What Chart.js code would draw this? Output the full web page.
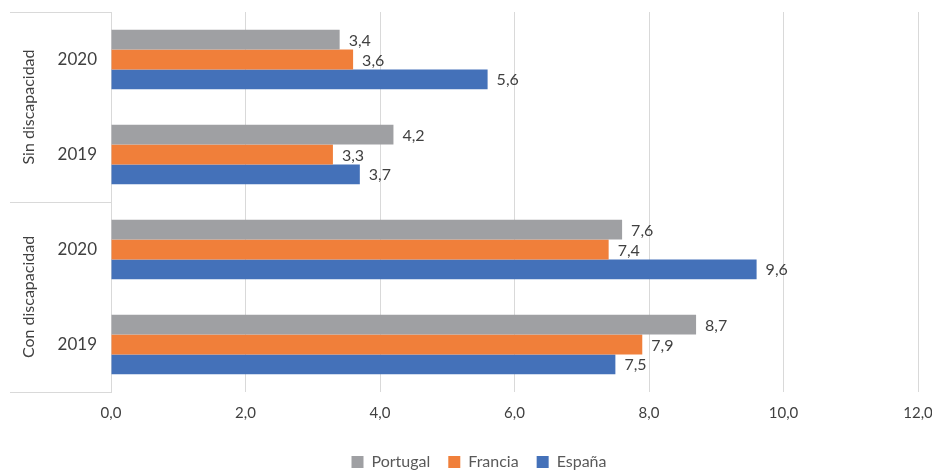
<!DOCTYPE html>
<html>
<head>
<meta charset="utf-8">
<script src="https://cdn.jsdelivr.net/npm/chart.js@4.4.1/dist/chart.umd.min.js"></script>
<style>
html,body{margin:0;padding:0;background:#fff;}
#wrap{width:932px;height:472px;position:relative;}
</style>
</head>
<body>
<div id="wrap"><canvas id="c" width="932" height="472"></canvas></div>
<script>
const years = ["2020", "2019", "2020", "2019"];
const groups = ["Sin discapacidad", "Con discapacidad"];
const groupSpan = [2, 2];
const portugal = [3.4, 4.2, 7.6, 8.7];
const francia = [3.6, 3.3, 7.4, 7.9];
const espana = [5.6, 3.7, 9.6, 7.5];
const xTicks = [0, 2, 4, 6, 8, 10, 12];

const FONT = "Lato, 'Open Sans', sans-serif";
const TXT = "#404040";
const fmt = v => v.toFixed(1).replace(".", ",");

const labelPlugin = {
  id: "valLabels",
  afterDatasetsDraw(chart) {
    const ctx = chart.ctx;
    ctx.save();
    ctx.font = "16px " + FONT;
    ctx.fillStyle = TXT;
    ctx.textAlign = "left";
    ctx.textBaseline = "middle";
    chart.data.datasets.forEach((ds, i) => {
      const meta = chart.getDatasetMeta(i);
      meta.data.forEach((bar, j) => {
        ctx.fillText(fmt(ds.data[j]), bar.x + 9, bar.y + 1);
      });
    });
    ctx.restore();
  }
};

const groupPlugin = {
  id: "groupAxis",
  afterLayout(chart) {
    if (chart.legend) { chart.legend.left += 20; chart.legend.right += 20; }
  },
  afterDraw(chart) {
    const ctx = chart.ctx;
    const area = chart.chartArea;
    const x0 = 10, x1 = area.left;
    ctx.save();
    ctx.strokeStyle = "#d9d9d9";
    ctx.lineWidth = 1;
    let idx = 0;
    const bounds = [area.top];
    groupSpan.forEach(n => { idx += n; bounds.push(area.top + (area.bottom - area.top) * idx / years.length); });
    bounds.forEach(b => {
      ctx.beginPath();
      ctx.moveTo(x0, Math.round(b) + 0.5);
      ctx.lineTo(x1, Math.round(b) + 0.5);
      ctx.stroke();
    });
    ctx.font = "16px " + FONT;
    ctx.fillStyle = TXT;
    ctx.textAlign = "center";
    ctx.textBaseline = "middle";
    for (let g = 0; g < groups.length; g++) {
      const cy = (bounds[g] + bounds[g + 1]) / 2;
      ctx.save();
      ctx.translate(29, cy);
      ctx.rotate(-Math.PI / 2);
      ctx.fillText(groups[g], 0, 0);
      ctx.restore();
    }
    ctx.restore();
  }
};

new Chart(document.getElementById("c"), {
  type: "bar",
  data: {
    labels: years,
    datasets: [
      { label: "Portugal", data: portugal, backgroundColor: "#9fa0a3" },
      { label: "Francia", data: francia, backgroundColor: "#f07f3a" },
      { label: "España", data: espana, backgroundColor: "#4471b9" }
    ]
  },
  options: {
    indexAxis: "y",
    responsive: false,
    animation: false,
    devicePixelRatio: 1,
    layout: { padding: { left: 0, right: 14, top: 12, bottom: -8 } },
    datasets: { bar: { barPercentage: 1.0, categoryPercentage: 0.625 } },
    scales: {
      x: {
        min: 0, max: 12,
        afterBuildTicks(scale) { scale.ticks = xTicks.map(v => ({ value: v })); },
        afterFit(scale) { scale.height += 2; scale.paddingLeft = 0; scale.paddingRight = 0; },
        ticks: {
          color: TXT,
          font: { family: FONT, size: 15 },
          padding: 12,
          callback: v => fmt(v)
        },
        grid: { color: "#d9d9d9", drawTicks: false },
        border: { display: false }
      },
      y: {
        afterFit(scale) { scale.width = 111; scale.paddingTop = 0; scale.paddingBottom = 0; },
        ticks: {
          color: TXT,
          font: { family: FONT, size: 17 },
          padding: 14
        },
        grid: { display: false, drawTicks: false },
        border: { display: true, color: "#d9d9d9" }
      }
    },
    plugins: {
      legend: {
        position: "bottom",
        labels: {
          color: "#595959",
          font: { family: FONT, size: 16 },
          boxWidth: 12,
          boxHeight: 12,
          padding: 18
        }
      },
      tooltip: { enabled: false }
    }
  },
  plugins: [labelPlugin, groupPlugin]
});
</script>
</body>
</html>
